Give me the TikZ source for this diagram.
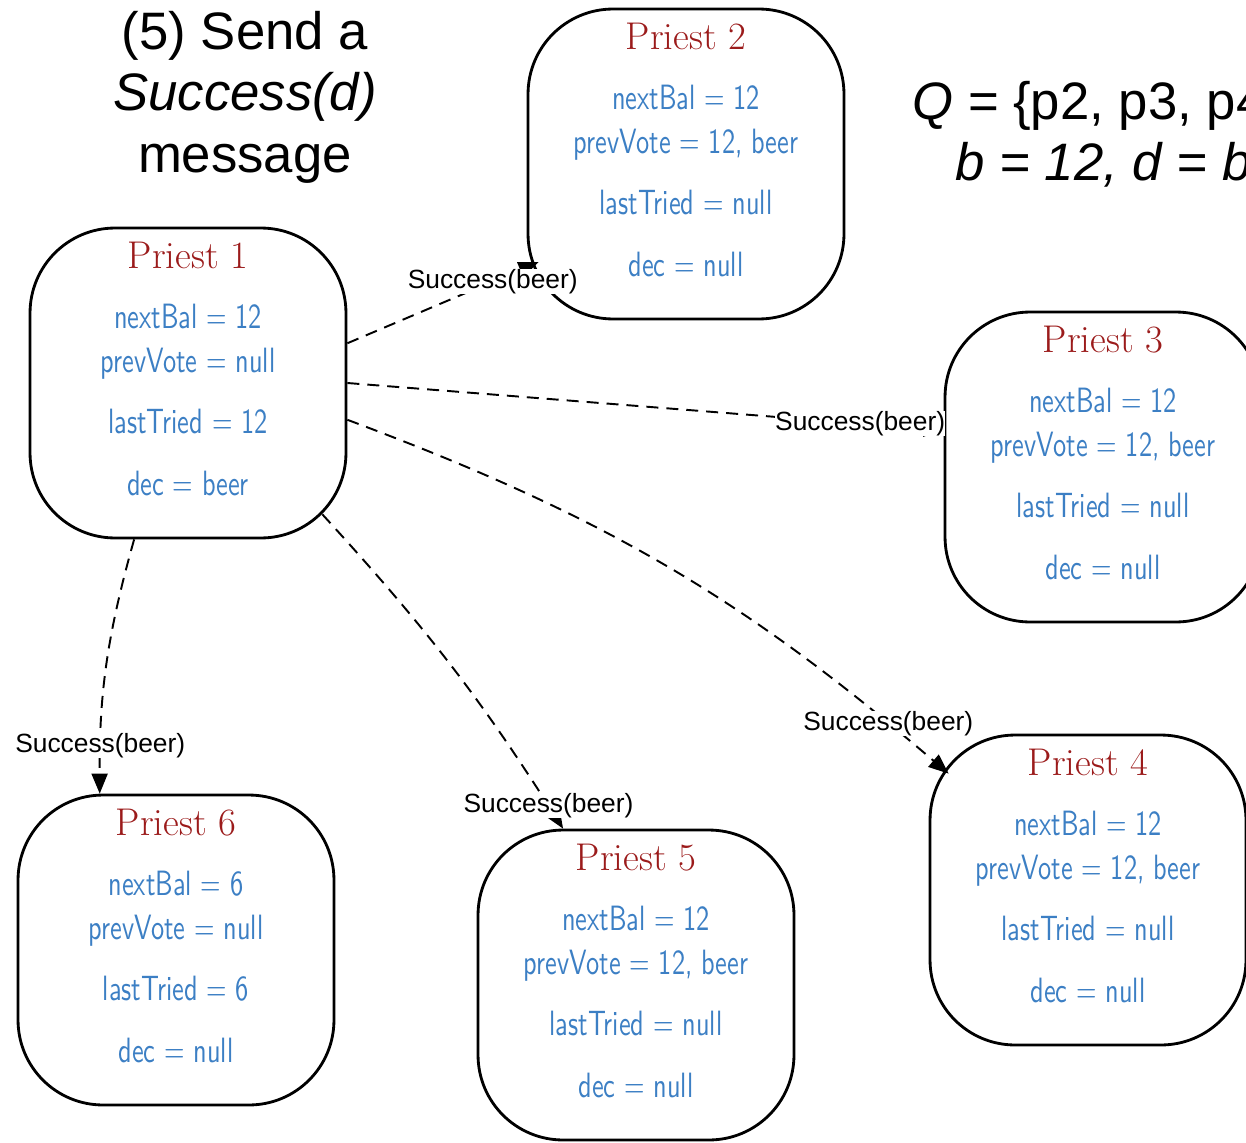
\documentclass[tikz,border=0pt]{standalone}
\usepackage{fontspec}
\setsansfont{Liberation Sans}
\newfontfamily\handfont[FakeStretch=0.75]{lmsans10-regular.otf}
\usepackage{tikz}
\usetikzlibrary{arrows.meta}
\definecolor{priestred}{HTML}{9B1B1B}
\definecolor{fieldblue}{HTML}{3C7FC4}
\newcommand{\ptitle}[1]{{\rmfamily\fontsize{22}{26}\selectfont\color{priestred}#1}}
\tikzset{
  priest/.style={rectangle, draw=black, line width=1.6pt, rounded corners=1.7cm,
                 minimum width=6.32cm, minimum height=6.2cm},
  fields/.style={align=center, text=fieldblue, font=\handfont\fontsize{20}{25}\selectfont},
  msg/.style={-{Triangle[length=4mm, width=3.2mm]}, line width=1.1pt,
              dash pattern=on 0.24cm off 0.16cm},
  msglabel/.style={font=\sffamily\fontsize{15}{17}\selectfont, fill=white, inner sep=0pt},
  heading/.style={font=\sffamily\fontsize{30}{35}\selectfont, align=center},
}

\begin{document}
\begin{tikzpicture}[x=0.02cm, y=-0.02cm]
    \useasboundingbox (0,0) rectangle (1246,1142);
    \clip (0,0) rectangle (1246,1142);
    \node[heading] (caption) at (245,97) {(5) Send a\\\textit{Success(d)}\\message};
    \node[heading, anchor=west, inner sep=0pt] (quorum) at (912,106) {\textit{Q} = \{p2, p3, p4, p5\}};
    \node[heading, anchor=west, inner sep=0pt] (values) at (955,165) {\textit{b = 12, d = beer}};
    % the priests
    \node[priest] (p1) at (188,383) {};
    \node[priest] (p2) at (686,164) {};
    \node[priest] (p3) at (1103,467) {};
    \node[priest] (p4) at (1088,890) {};
    \node[priest] (p5) at (636,985) {};
    \node[priest] (p6) at (176,950) {};
    \node[fields] (p1text) at ([yshift=0.28cm]p1.center) {\ptitle{Priest 1}\\[9pt] nextBal = 12\\ prevVote = null\\[10pt] lastTried = 12\\[10pt] dec = beer};
    \node[fields] (p2text) at ([yshift=0.28cm]p2.center) {\ptitle{Priest 2}\\[9pt] nextBal = 12\\ prevVote = 12, beer\\[10pt] lastTried = null\\[10pt] dec = null};
    \node[fields] (p3text) at ([yshift=0.28cm]p3.center) {\ptitle{Priest 3}\\[9pt] nextBal = 12\\ prevVote = 12, beer\\[10pt] lastTried = null\\[10pt] dec = null};
    \node[fields] (p4text) at ([yshift=0.28cm]p4.center) {\ptitle{Priest 4}\\[9pt] nextBal = 12\\ prevVote = 12, beer\\[10pt] lastTried = null\\[10pt] dec = null};
    \node[fields] (p5text) at ([yshift=0.28cm]p5.center) {\ptitle{Priest 5}\\[9pt] nextBal = 12\\ prevVote = 12, beer\\[10pt] lastTried = null\\[10pt] dec = null};
    \node[fields] (p6text) at ([yshift=0.28cm]p6.center) {\ptitle{Priest 6}\\[9pt] nextBal = 6\\ prevVote = null\\[10pt] lastTried = 6\\[10pt] dec = null};
    % success messages from priest 1
    \draw[msg] (p1.14) -- node[msglabel, pos=0.76] {Success(beer)} ([shift={(12,98)}]p2.west);
    \draw[msg] (p1.east) -- node[msglabel, pos=0.86] {Success(beer)} (p3.167);
    \draw[msg] (p1.-13) to[bend left=10] node[msglabel, pos=0.9] {Success(beer)} ([shift={(20,40)}]p4.north west);
    \draw[msg] ([shift={(-25,-25)}]p1.south east) to[bend left=5] node[msglabel, pos=0.94] {Success(beer)} (p5.115);
    \draw[msg] (p1.-109) to[bend right=8] node[msglabel, pos=0.83] {Success(beer)} (p6.116);
\end{tikzpicture}
\end{document}
